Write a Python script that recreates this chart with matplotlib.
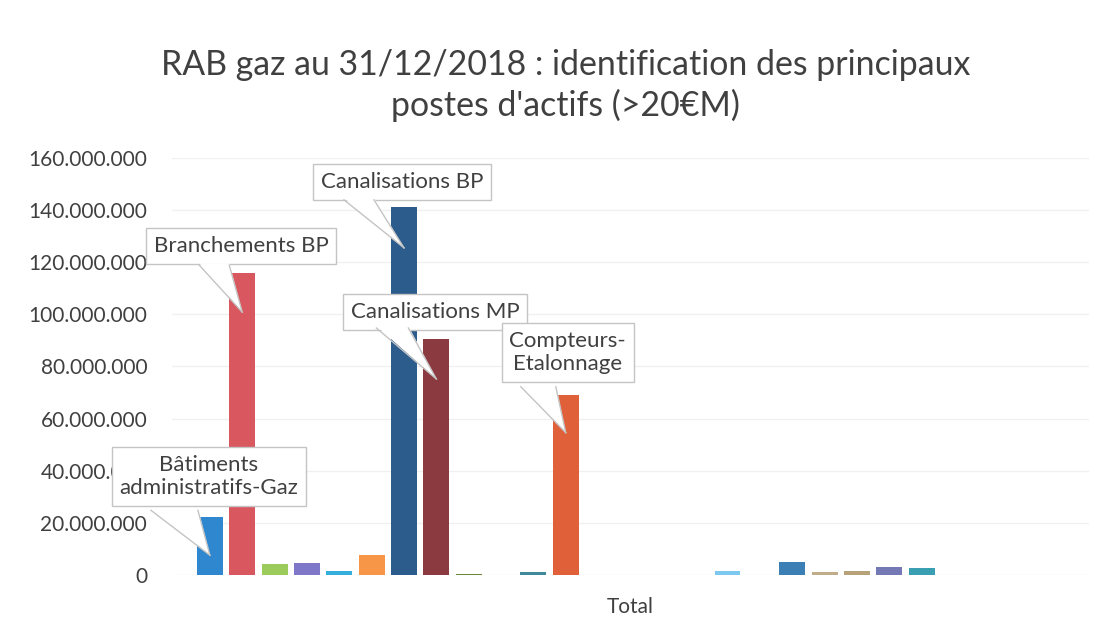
import matplotlib.pyplot as plt
import numpy as np
from matplotlib.ticker import FuncFormatter
from matplotlib.patches import Polygon
from matplotlib.lines import Line2D
from matplotlib.transforms import IdentityTransform

# RAB gaz values per asset item (EUR), one series per item, single category "Total"
values = [22.3e6, 115.9e6, 4.2e6, 4.6e6, 1.6e6, 7.7e6, 141.0e6, 90.6e6, 0.3e6,
          0.0, 1.2e6, 69.1e6, 0.1e6, 0.1e6, 0.0, 0.1e6, 1.5e6, 0.2e6, 5.0e6,
          1.1e6, 1.5e6, 3.1e6, 2.8e6, 0.1e6, 0.0, 0.1e6, 0.0]

colors = ['#2f88cf', '#d9575e', '#9bcb5a', '#7f77c7', '#33aedd', '#f79646',
          '#2c5c8c', '#8b3a3f', '#6a8a3a', '#5a4a7a', '#3e8a9a', '#e0603a',
          '#8fb0d8', '#e09090', '#c0d890', '#b0a0d0', '#7cc8ee', '#f9b880',
          '#3c7fb5', '#c0ac88', '#b8a27a', '#7479b5', '#3a9fb2', '#d0b090',
          '#a0a0a0', '#90b0c0', '#c0c0c0']

# callouts: series index, label, tip height as fraction of bar,
# box centre offset from tip (px), tail base left/right x offset (px), tail base height (px)
callouts = [
    (0, 'Bâtiments\nadministratifs-Gaz', 0.34, (-1, 79), (-59, -12), 45),
    (1, 'Branchements BP', 0.87, (-1, 66), (-43, -13), 47),
    (6, 'Canalisations BP', 0.89, (-2, 66), (-60, -30), 48),
    (7, 'Canalisations MP', 0.83, (-1, 67), (-60, -28), 51),
    (11, 'Compteurs-\nEtalonnage', 0.79, (2, 80), (-45, -10), 46),
]

plt.rcParams['font.family'] = ['Lato', 'DejaVu Sans']

fig = plt.figure(figsize=(11.11, 6.31), dpi=100)
ax = fig.add_axes([0.155, 0.0887, 0.825, 0.661])

n = len(values)
step = 1.0 / 28.33
x = (np.arange(n) - (n - 1) / 2) * step
ax.bar(x, values, width=step * 0.8, color=colors, zorder=3)

ax.set_xlim(-0.5, 0.5)
ax.set_ylim(0, 160e6)
ax.set_yticks(np.arange(0, 160e6 + 1, 20e6))
ax.yaxis.set_major_formatter(FuncFormatter(lambda v, p: f'{int(v):,}'.replace(',', '.')))
ax.set_xticks([0])
ax.set_xticklabels(['Total'])
ax.tick_params(axis='both', length=0, labelsize=15, colors='#404040')
ax.tick_params(axis='x', pad=16)
ax.tick_params(axis='y', pad=18)
ax.grid(axis='y', color='#f0f0f0', linewidth=1, zorder=0)
for s in ax.spines.values():
    s.set_visible(False)

edge = '#c4c4c4'
for i, label, frac, box_off, base_dx, base_h in callouts:
    tip = ax.transData.transform((x[i], values[i] * frac))
    tx, ty = tip
    # box (display px offsets converted to points: 1 px = 0.72 pt at 100 dpi)
    ax.annotate(label, xy=(x[i], values[i] * frac),
                xytext=(box_off[0] * 0.72, box_off[1] * 0.72),
                textcoords='offset points', ha='center', va='center',
                fontsize=16, color='#404040', zorder=5, linespacing=1.2,
                bbox=dict(boxstyle='square,pad=0.35', fc='white', ec=edge, lw=1))
    bl = (tx + base_dx[0], ty + base_h)
    br = (tx + base_dx[1], ty + base_h)
    fill = Polygon([(tx, ty), (bl[0], bl[1] + 2), (br[0], br[1] + 2)], closed=True,
                   fc='white', ec='none', transform=IdentityTransform(),
                   zorder=6, clip_on=False)
    ax.add_patch(fill)
    for b in (bl, br):
        ax.add_line(Line2D([tx, b[0]], [ty, b[1]], color=edge, lw=1,
                           transform=IdentityTransform(), zorder=7, clip_on=False))

fig.suptitle("RAB gaz au 31/12/2018 : identification des principaux\npostes d'actifs (>20€M)",
             x=0.509, y=0.922, fontsize=24.4, color='#404040', linespacing=1.28)

fig.savefig('out.png', dpi=100)
